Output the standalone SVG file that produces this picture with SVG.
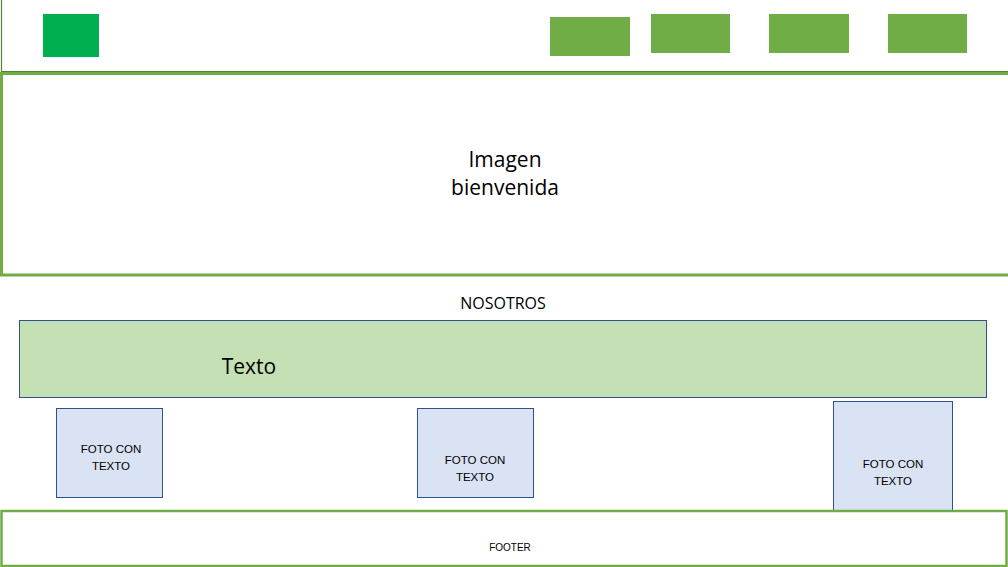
<svg xmlns="http://www.w3.org/2000/svg" width="1008" height="567" viewBox="0 0 1008 567">
<style>
text{font-family:"Liberation Sans","Noto Sans",sans-serif;fill:#000;text-anchor:middle}
.big{font-family:"Open Sans","Noto Sans",sans-serif}
.foto text{font-size:11.5px}
.nav{fill:#70AD47}
.foto rect{fill:#DAE3F3;stroke:#2F528F;stroke-width:1}
.frame{fill:none;stroke:#70AD47;stroke-width:3}
</style>
<rect width="1008" height="567" fill="#fff"/>
<g id="header">
<path d="M1.5 0 V71.5 H1008" fill="none" stroke="#548235" stroke-width="1.2"/>
<rect id="logo" x="43" y="14" width="56" height="43" fill="#00B050"/>
<rect class="nav" x="550" y="17" width="80" height="39"/>
<rect class="nav" x="651" y="14" width="79" height="39"/>
<rect class="nav" x="769" y="14" width="80" height="39"/>
<rect class="nav" x="888" y="14" width="79" height="39"/>
</g>
<g id="hero">
<rect class="frame" x="1.5" y="73.5" width="1010" height="201.5"/>
<text class="big" x="505" y="167" font-size="21">Imagen</text>
<text class="big" x="505" y="195" font-size="21">bienvenida</text>
</g>
<g id="nosotros">
<text class="big" x="503" y="309" font-size="16">NOSOTROS</text>
</g>
<g id="texto">
<rect x="19.5" y="320.5" width="967" height="77" fill="#C5E0B4" stroke="#2F528F" stroke-width="1"/>
<text class="big" x="249" y="374" font-size="21">Texto</text>
</g>
<g id="foto1" class="foto">
<rect x="56.5" y="408.5" width="106" height="89"/>
<text x="111" y="453">FOTO CON</text>
<text x="111" y="470">TEXTO</text>
</g>
<g id="foto2" class="foto">
<rect x="417.5" y="408.5" width="116" height="89"/>
<text x="475" y="464">FOTO CON</text>
<text x="475" y="481">TEXTO</text>
</g>
<g id="foto3" class="foto">
<rect x="833.5" y="401.5" width="119" height="109"/>
<text x="893" y="468">FOTO CON</text>
<text x="893" y="485">TEXTO</text>
</g>
<g id="footer">
<rect x="1.5" y="511" width="1005" height="55" fill="none" stroke="#70AD47" stroke-width="2.5"/>
<text x="510" y="551" font-size="10">FOOTER</text>
</g>
<g id="connectors"></g>
</svg>
